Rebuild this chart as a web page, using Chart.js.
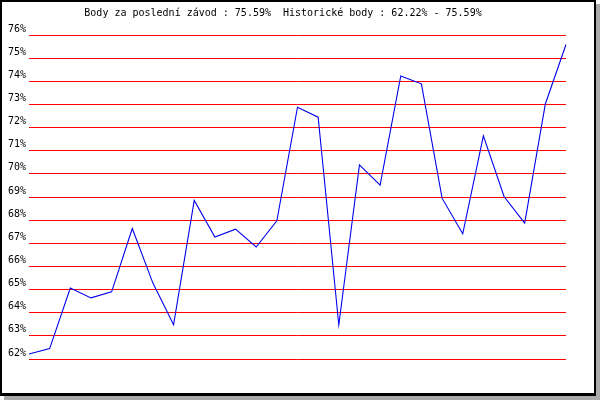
<!DOCTYPE html>
<html>
<head>
<meta charset="utf-8">
<script src="https://cdn.jsdelivr.net/npm/chart.js@4/dist/chart.umd.min.js"></script>
<style>
  html, body { margin: 0; padding: 0; background: #fff; }
  #frame { position: absolute; left: 0; top: 0; width: 596px; height: 396px; box-sizing: border-box;
           border: 2px solid #000; border-bottom-width: 3px; box-shadow: 4px 4px 0 #aaaaaa; background: #fff; }
  #c { position: absolute; left: 0; top: 0; }
</style>
</head>
<body>
<div id="frame"></div>
<canvas id="c" width="600" height="400"></canvas>
<script>
const titleText = 'Body za poslední závod : 75.59%  Historické body : 62.22% - 75.59%';
const races = ['1','2','3','4','5','6','7','8','9','10','11','12','13','14','15','16','17','18','19','20','21','22','23','24','25','26','27'];
const points = [62.22, 62.45, 65.07, 64.64, 64.90, 67.64, 65.28, 63.48, 68.85, 67.27, 67.61, 66.84, 67.97, 72.88, 72.45, 63.47, 70.39, 69.51, 74.23, 73.89, 68.95, 67.41, 71.64, 69.02, 67.87, 73.02, 75.59];
const yMin = 62;
const yMax = 76;
const yStep = 1;

const font = { family: 'DejaVu Sans Mono', size: 10, weight: 'normal' };

new Chart(document.getElementById('c'), {
  type: 'line',
  data: {
    labels: races,
    datasets: [{
      data: points,
      borderColor: '#0000ee',
      borderWidth: 1.1,
      pointRadius: 0,
      tension: 0,
      fill: false
    }]
  },
  options: {
    responsive: false,
    animation: false,
    layout: { padding: { left: 0, right: 34, top: 0, bottom: 41 } },
    plugins: {
      legend: { display: false },
      tooltip: { enabled: false },
      title: {
        display: true,
        text: titleText,
        color: '#000',
        font: font,
        padding: { top: 7, bottom: 16 }
      }
    },
    scales: {
      x: { display: false, offset: false },
      y: {
        min: yMin,
        max: yMax,
        afterFit: s => { s.width = 29; },
        border: { display: false },
        grid: { color: '#ff0000', lineWidth: 1, drawTicks: false },
        ticks: {
          stepSize: yStep,
          color: '#000',
          font: font,
          padding: 3,
          labelOffset: -6,
          callback: v => v + '%'
        }
      }
    }
  }
});
</script>
</body>
</html>
